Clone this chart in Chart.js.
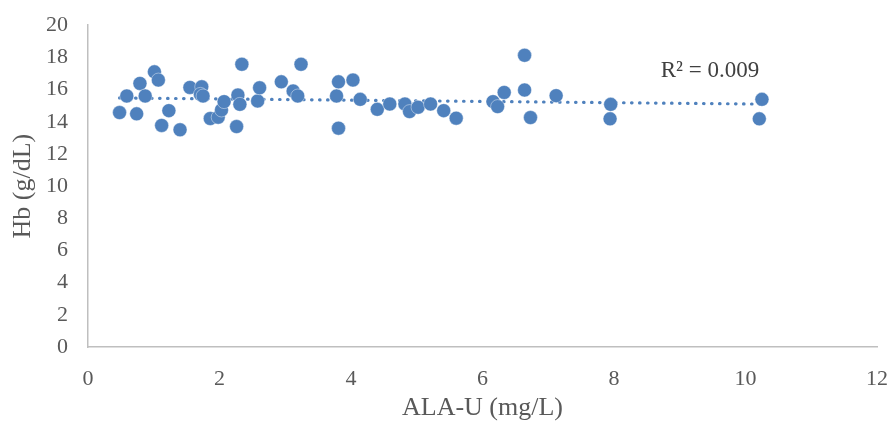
<!DOCTYPE html>
<html>
<head>
<meta charset="utf-8">
<script src="https://cdn.jsdelivr.net/npm/chart.js@4/dist/chart.umd.min.js"></script>
<style>
  html, body { margin: 0; padding: 0; background: #fff; }
  #wrap { width: 890px; height: 424px; }
</style>
</head>
<body>
<div id="wrap"><canvas id="hbChart"></canvas></div>
<script>
// ALA-U (mg/L) vs Hb (g/dL)
var alaU = [0.48, 0.59, 0.74, 0.79, 0.87, 1.01, 1.07, 1.12, 1.23, 1.40,
            1.55, 1.73, 1.71, 1.75, 1.86, 1.98, 2.03, 2.07, 2.28, 2.26,
            2.31, 2.34, 2.58, 2.61, 2.94, 3.12, 3.19, 3.24, 3.78, 3.81,
            3.81, 4.03, 4.14, 4.40, 4.59, 4.82, 4.89, 5.02, 5.21, 5.41,
            5.60, 6.16, 6.23, 6.33, 6.64, 6.64, 6.73, 7.12, 7.95, 7.94,
            10.25, 10.21];
var hb = [14.57, 15.60, 14.49, 16.38, 15.60, 17.10, 16.59, 13.77, 14.69, 13.50,
          16.13, 16.17, 15.70, 15.60, 14.20, 14.28, 14.73, 15.25, 15.66, 13.70,
          15.08, 17.57, 15.29, 16.11, 16.48, 15.91, 15.60, 17.57, 15.60, 16.48,
          13.60, 16.59, 15.39, 14.77, 15.10, 15.10, 14.63, 14.90, 15.10, 14.69,
          14.22, 15.25, 14.94, 15.82, 18.13, 15.97, 14.26, 15.62, 15.08, 14.18,
          15.39, 14.18];
var xTicks = [0, 2, 4, 6, 8, 10, 12];
var yTicks = [0, 2, 4, 6, 8, 10, 12, 14, 16, 18, 20];
var r2Label = 'R² = 0.009';

var blue = '#4F81BD';
var serif = "'Liberation Serif', 'Times New Roman', serif";

var points = alaU.map(function (x, i) { return { x: x, y: hb[i] }; });

// linear trendline (least squares)
var n = alaU.length, sx = 0, sy = 0, sxx = 0, sxy = 0;
for (var i = 0; i < n; i++) {
  sx += alaU[i]; sy += hb[i];
  sxx += alaU[i] * alaU[i]; sxy += alaU[i] * hb[i];
}
var slope = (n * sxy - sx * sy) / (n * sxx - sx * sx);
var icpt = (sy - slope * sx) / n;
var xMin = Math.min.apply(null, alaU), xMax = Math.max.apply(null, alaU);
var trend = [{ x: xMin, y: icpt + slope * xMin }, { x: xMax, y: icpt + slope * xMax }];

var r2Plugin = {
  id: 'r2Plugin',
  afterDatasetsDraw: function (chart) {
    var c = chart.ctx;
    var px = chart.scales.x.getPixelForValue(8.71);
    var py = chart.scales.y.getPixelForValue(17.15);
    c.save();
    c.font = '23px ' + serif;
    c.fillStyle = '#404040';
    c.textBaseline = 'middle';
    c.fillText(r2Label, px, py);
    c.restore();
  }
};

var ctx = document.getElementById('hbChart');
var hbChart = new Chart(ctx, {
  type: 'scatter',
  data: {
    datasets: [{
      label: 'Hb',
      data: points,
      backgroundColor: blue,
      borderColor: 'rgba(255,255,255,0.55)',
      borderWidth: 0.75,
      pointRadius: 7,
      pointHoverRadius: 7,
      order: 1
    }, {
      label: 'Trend',
      data: trend,
      showLine: true,
      borderColor: blue,
      borderWidth: 3.2,
      borderDash: [0.5, 7.5],
      borderCapStyle: 'round',
      pointRadius: 0,
      fill: false,
      order: 2
    }]
  },
  options: {
    responsive: true,
    maintainAspectRatio: false,
    animation: false,
    layout: { padding: { top: 15, right: 13, left: 0, bottom: 0 } },
    plugins: {
      legend: { display: false },
      tooltip: { enabled: false }
    },
    scales: {
      x: {
        type: 'linear',
        min: 0,
        max: 12,
        afterBuildTicks: function (s) { s.ticks = xTicks.map(function (v) { return { value: v }; }); },
        afterFit: function (s) { s.height = 77; s.paddingRight = 0; s.paddingLeft = 0; },
        grid: { display: false },
        border: { display: true, color: '#BFBFBF', width: 1.5 },
        ticks: { color: '#595959', font: { family: serif, size: 22 }, padding: 11, maxRotation: 0 },
        title: { display: true, text: 'ALA-U (mg/L)', color: '#595959', font: { family: serif, size: 26 }, padding: { top: 0, bottom: 0 } }
      },
      y: {
        type: 'linear',
        min: 0,
        max: 20,
        afterBuildTicks: function (s) { s.ticks = yTicks.map(function (v) { return { value: v }; }); },
        afterFit: function (s) { s.width = 88; },
        grid: { display: false },
        border: { display: true, color: '#BFBFBF', width: 1.5 },
        ticks: { color: '#595959', font: { family: serif, size: 22 }, padding: 12 },
        title: { display: true, text: 'Hb (g/dL)', color: '#595959', font: { family: serif, size: 26 }, padding: { top: 8, bottom: 0 } }
      }
    }
  },
  plugins: [r2Plugin]
});
</script>
</body>
</html>
